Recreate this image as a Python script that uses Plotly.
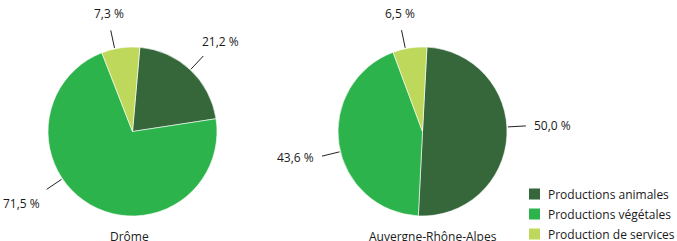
import math
import plotly.graph_objects as go

categories = ["Productions animales", "Productions végétales", "Production de services"]
drome_values = [21.2, 71.5, 7.3]
aura_values = [50.0, 43.6, 6.5]
drome_labels = ["21,2 %", "71,5 %", "7,3 %"]
aura_labels = ["50,0 %", "43,6 %", "6,5 %"]
titles = ["Drôme", "Auvergne-Rhône-Alpes"]
colors = ["#35673A", "#2DB34B", "#BDD85A"]

# layout / style
W, H = 677, 241
R = 84.5
centers = [(132.5, 131.5), (422.5, 131.5)]
rotations = [5, 3]
label_shift = [[0, 26, -4], [-6, -5, -3]]  # degrees, leader-line placement tweak
title_x = [129, 433]
FONT = "Open Sans"
TXT = "#1a1a1a"

fig = go.Figure()
annotations = []
shapes = []


def px(x):
    return x / W


def py(y):
    return 1 - y / H


for i, (vals, labs) in enumerate([(drome_values, drome_labels), (aura_values, aura_labels)]):
    cx, cy = centers[i]
    fig.add_trace(go.Pie(
        labels=categories, values=vals, sort=False, direction="clockwise",
        rotation=rotations[i], textinfo="none", hoverinfo="label+percent",
        marker=dict(colors=colors, line=dict(color="white", width=0.6)),
        domain=dict(x=[px(cx - R), px(cx + R)], y=[py(cy + R), py(cy - R)]),
        showlegend=False,
    ))
    total = sum(vals)
    cum = 0
    for k, (v, lab) in enumerate(zip(vals, labs)):
        mid = rotations[i] + (cum + v / 2) / total * 360 + label_shift[i][k]
        cum += v
        a = math.radians(mid)
        s, c = math.sin(a), math.cos(a)
        x0, y0 = cx + (R + 1) * s, cy - (R + 1) * c
        x1, y1 = cx + (R + 19) * s, cy - (R + 19) * c
        shapes.append(dict(type="line", xref="paper", yref="paper",
                           x0=px(x0), y0=py(y0), x1=px(x1), y1=py(y1),
                           line=dict(color="#222222", width=1)))
        xa, ya = x1 + 6 * s, y1 - 6 * c
        xanc = "center" if abs(s) < 0.3 else ("left" if s > 0 else "right")
        yanc = "middle" if abs(c) < 0.3 else ("bottom" if c > 0 else "top")
        if xanc == "left" and yanc == "bottom":
            xa -= 7
        annotations.append(dict(text=lab, x=px(xa), y=py(ya), xref="paper", yref="paper",
                                xanchor=xanc, yanchor=yanc, showarrow=False,
                                font=dict(size=12, color=TXT, family=FONT)))
    annotations.append(dict(text=titles[i], x=px(title_x[i]), y=py(236), xref="paper", yref="paper",
                            xanchor="center", yanchor="middle", showarrow=False,
                            font=dict(size=12, color=TXT, family=FONT)))

# legend (drawn manually so that it does not push the margins)
leg_x, leg_y0, leg_dy, sw = 529, 194, 20, 11
for k, (cat, col) in enumerate(zip(categories, colors)):
    yc = leg_y0 + k * leg_dy
    shapes.append(dict(type="rect", xref="paper", yref="paper",
                       x0=px(leg_x), x1=px(leg_x + sw), y0=py(yc + sw / 2), y1=py(yc - sw / 2),
                       fillcolor=col, line=dict(width=0)))
    annotations.append(dict(text=cat, x=px(leg_x + sw + 6), y=py(yc), xref="paper", yref="paper",
                            xanchor="left", yanchor="middle", showarrow=False,
                            font=dict(size=12, color=TXT, family=FONT)))

fig.update_layout(
    width=W, height=H, margin=dict(l=0, r=0, t=0, b=0),
    paper_bgcolor="white", plot_bgcolor="white",
    annotations=annotations, shapes=shapes, showlegend=False,
    font=dict(family=FONT),
)
fig.write_html("out.html", config={"displayModeBar": False},
               post_script="document.body.style.margin='0';document.body.style.overflow='hidden';")
